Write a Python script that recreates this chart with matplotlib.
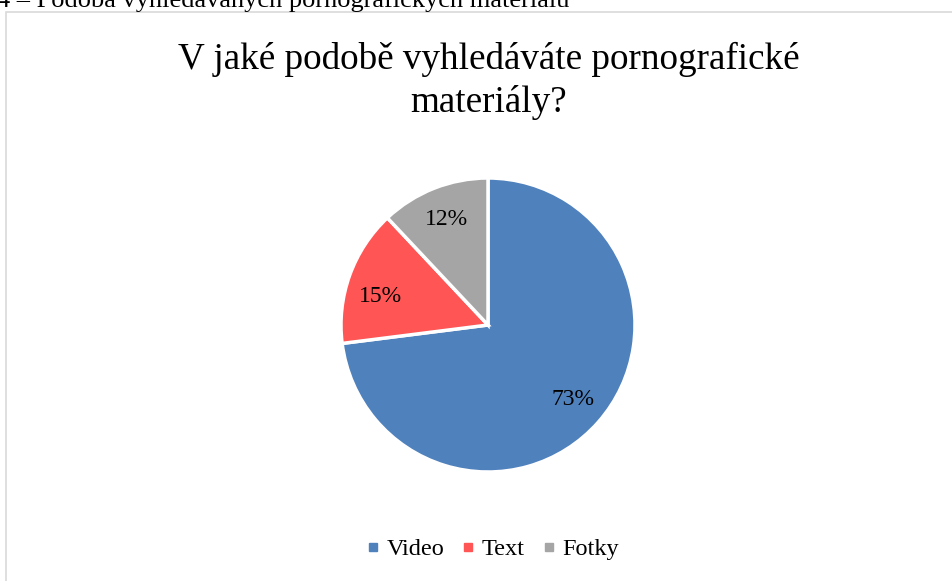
import numpy as np
import matplotlib.pyplot as plt
from matplotlib.patches import Rectangle
from matplotlib.lines import Line2D

# Data
categories = ["Video", "Text", "Fotky"]
values = [73, 15, 12]
colors = ["#4F81BD", "#FF5555", "#A5A5A5"]

plt.rcParams['font.family'] = ['Liberation Serif', 'DejaVu Serif']

fig = plt.figure(figsize=(9.53, 5.81), dpi=100)

# clipped caption above the chart
fig.text(-0.003, 1 - 7 / 581, "4 – Podoba vyhledávaných pornografických materiálů",
         fontsize=19, ha='left', va='baseline', color='black')

# chart frame
fig.patches.append(Rectangle((6 / 953, -0.1), 1.2, 1 - 12 / 581 + 0.1,
                             transform=fig.transFigure, fill=False,
                             edgecolor='#D9D9D9', linewidth=1.2))

fig.text(489 / 953, 1 - 81 / 581, "V jaké podobě vyhledáváte pornografické\nmateriály?",
         fontsize=26.7, ha='center', va='center', linespacing=1.3)

# pie axes: center (488, 325), radius 147
r = 147
ax = fig.add_axes([(488 - r) / 953, (581 - 325 - r) / 581, 2 * r / 953, 2 * r / 581])
wedges, texts, autotexts = ax.pie(values, colors=colors, startangle=90, counterclock=False,
                                  autopct='%1.0f%%', pctdistance=0.77, radius=1.0,
                                  wedgeprops=dict(edgecolor='white', linewidth=2.5),
                                  textprops=dict(fontsize=17, color='black'))
# Excel "best fit" puts the Text label a little lower than the mid angle
a = np.deg2rad(165)
autotexts[1].set_position((0.76 * np.cos(a), 0.76 * np.sin(a)))
ax.set_xlim(-1, 1)
ax.set_ylim(-1, 1)
ax.set_aspect('equal')
ax.axis('off')

handles = [Line2D([], [], marker='s', linestyle='none', markersize=5.5,
                  markerfacecolor=c, markeredgecolor=c) for c in colors]
leg = fig.legend(handles, categories, loc='center', bbox_to_anchor=(493 / 953, 1 - 549 / 581),
                 ncol=3, frameon=False, fontsize=17.5, handlelength=0.5,
                 handletextpad=0.3, columnspacing=0.75)

fig.savefig("out.png", dpi=100)
